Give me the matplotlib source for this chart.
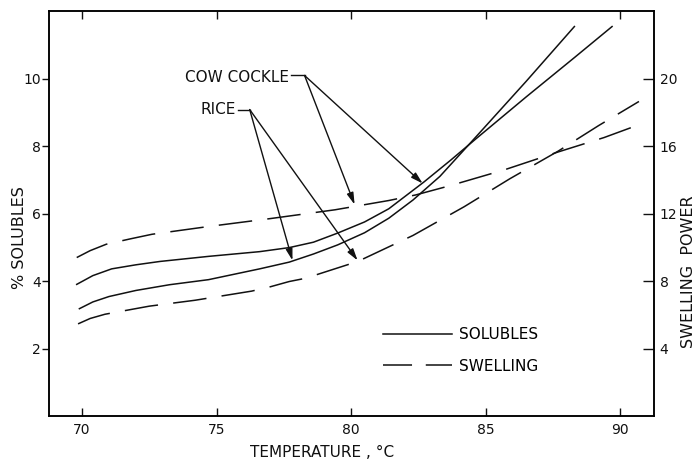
import matplotlib.pyplot as plt
from matplotlib.lines import Line2D

plt.rcParams['font.family'] = 'DejaVu Sans'
plt.rcParams['axes.linewidth'] = 1.1

# % solubles vs temperature (C)
cc_sol_t = [69.8, 70.4, 71.1, 72.0, 72.9, 74.7, 76.6, 77.7, 78.6, 79.5, 80.5, 81.4, 82.7, 83.7, 84.65, 86.5, 88.3, 89.7]
cc_sol = [3.90, 4.16, 4.36, 4.48, 4.58, 4.73, 4.87, 4.99, 5.15, 5.42, 5.75, 6.14, 6.93, 7.58, 8.22, 9.45, 10.62, 11.54]
rice_sol_t = [69.9, 70.4, 71.0, 72.0, 73.25, 74.7, 76.6, 77.7, 78.6, 79.5, 80.5, 81.4, 82.3, 83.3, 84.65, 86.5, 88.3]
rice_sol = [3.18, 3.38, 3.54, 3.72, 3.89, 4.04, 4.36, 4.56, 4.80, 5.07, 5.43, 5.86, 6.40, 7.10, 8.28, 9.91, 11.54]

# swelling power vs temperature (C)
cc_sw_t = [69.8, 70.3, 70.9, 71.8, 72.6, 74.7, 77.0, 79.4, 81.4, 82.4, 83.7, 85.7, 87.7, 89.4, 90.8]
cc_sw = [9.39, 9.80, 10.18, 10.50, 10.77, 11.23, 11.70, 12.22, 12.77, 13.10, 13.66, 14.59, 15.65, 16.50, 17.32]
rice_sw_t = [69.85, 70.3, 70.85, 72.5, 74.2, 76.3, 77.0, 77.7, 78.3, 80.25, 82.3, 84.2, 85.9, 87.7, 89.2, 90.7]
rice_sw = [5.46, 5.78, 6.03, 6.51, 6.86, 7.40, 7.66, 7.97, 8.16, 9.16, 10.70, 12.40, 14.06, 15.70, 17.21, 18.64]

x_ticks = [70, 75, 80, 85, 90]
sol_ticks = [2, 4, 6, 8, 10]
sw_ticks = [4, 8, 12, 16, 20]

# labels and arrows (temperature, value)
cc_label = (77.7, 10.03)
cc_from = (78.27, 10.09)
cc_to_sol = (82.66, 6.89)
cc_to_sw = (80.13, 12.53)
rice_label = (75.71, 9.08)
rice_from = (76.23, 9.08)
rice_to_sol = (77.82, 4.61)
rice_to_sw = (80.24, 9.22)

ink = '#111111'
fig = plt.figure(figsize=(6.96, 4.61), dpi=100)
ax = fig.add_axes([0.0704, 0.0976, 0.8693, 0.8785])
ax2 = ax.twinx()

ax.plot(cc_sol_t, cc_sol, color=ink, lw=1.1)
ax.plot(rice_sol_t, rice_sol, color=ink, lw=1.1)
ax2.plot(cc_sw_t, cc_sw, color=ink, lw=1.1, dashes=(22, 10))
ax2.plot(rice_sw_t, rice_sw, color=ink, lw=1.1, dashes=(22, 10))

ax.set_xlim(68.77, 91.26)
ax.set_ylim(0, 12)
ax2.set_ylim(0, 24)
ax.set_xticks(x_ticks)
ax.set_yticks(sol_ticks)
ax2.set_yticks(sw_ticks)

ax.tick_params(axis='x', direction='in', length=6, width=1.0, labelsize=10, pad=5, top=True, colors=ink)
ax.tick_params(axis='y', direction='out', length=5, width=1.0, labelsize=10, pad=1, colors=ink)
ax2.tick_params(axis='y', direction='in', length=8, width=1.0, labelsize=10, pad=4, colors=ink)

ax.set_xlabel('TEMPERATURE , °C', fontsize=11, color=ink)
ax.xaxis.set_label_coords(0.451, -0.072)
ax.set_ylabel('% SOLUBLES', fontsize=11.5, color=ink)
ax.yaxis.set_label_coords(-0.036, 0.44)
ax2.set_ylabel('SWELLING  POWER', fontsize=11.5, color=ink)
ax2.yaxis.set_label_coords(1.045, 0.356)

# callouts
for lab, name, src, to_sol, to_sw in [(cc_label, 'COW COCKLE', cc_from, cc_to_sol, cc_to_sw),
                                      (rice_label, 'RICE', rice_from, rice_to_sol, rice_to_sw)]:
    ax.text(lab[0], lab[1], name, ha='right', va='center', fontsize=11, color=ink)
    ax.plot([lab[0] + 0.08, src[0]], [src[1], src[1]], color=ink, lw=1.0)
    ap = dict(arrowstyle='-|>,head_length=0.7,head_width=0.2', lw=1.0, color=ink, shrinkA=0, shrinkB=0)
    ax.annotate('', xy=to_sol, xytext=src, arrowprops=ap)
    ax.annotate('', xy=to_sw, xycoords=ax2.transData, xytext=src, textcoords=ax.transData, arrowprops=ap)

handles = [Line2D([], [], color=ink, lw=1.1),
           Line2D([], [], color=ink, lw=1.1, dashes=(19, 9))]
ax.legend(handles, ['SOLUBLES', 'SWELLING'], loc='upper left', bbox_to_anchor=(0.552, 0.22),
          frameon=False, fontsize=11, handlelength=4.5, handletextpad=0.5, labelspacing=1.1,
          borderpad=0, borderaxespad=0)

fig.savefig('out.png', dpi=100, facecolor='white')
